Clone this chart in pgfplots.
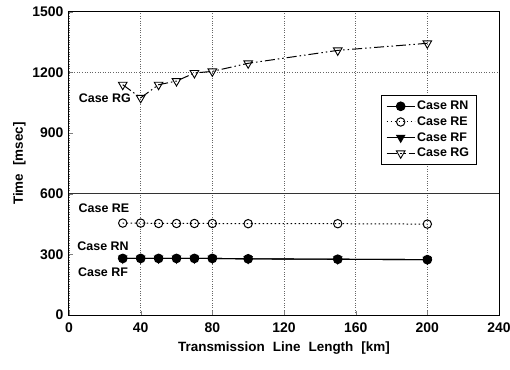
\documentclass[border=0pt]{standalone}
\usepackage{fontspec}
\setmainfont{Liberation Sans}
\usepackage{pgfplots}
\pgfplotsset{compat=1.18}
\begin{document}
\begin{tikzpicture}
\begin{axis}[
  scale only axis,
  width=430bp, height=303bp,
  xmin=0, xmax=240, ymin=0, ymax=1500,
  xtick={0,40,...,240}, ytick={0,300,...,1500},
  xtick pos=left, ytick pos=left,
  tick align=inside, major tick length=4bp,
  /pgf/number format/assume math mode=true,
  /pgf/number format/1000 sep={},
  ticklabel style={font=\fontsize{14}{16}\selectfont\bfseries},
  xticklabel style={yshift=-4bp},
  yticklabel style={xshift=-2bp},
  xmajorgrids,
  grid style={black!60, dotted, line width=0.6bp},
  axis line style={line width=1bp},
  xlabel={Transmission\hspace{0.6em}Line\hspace{0.6em}Length\hspace{0.6em}[km]},
  ylabel={Time\hspace{0.6em}[msec]},
  label style={font=\fontsize{13.5}{15}\selectfont\bfseries},
  xlabel style={yshift=-3bp},
  legend style={at={(axis cs:174,1090)}, anchor=north west, draw=black, line width=0.8bp,
    font=\fontsize{12.5}{14}\selectfont\bfseries, row sep=1.5bp, inner xsep=5bp, inner ysep=4bp},
  legend cell align=left,
  legend image code/.code={\draw[mark repeat=2,mark phase=2] plot coordinates {(0bp,0bp) (14bp,0bp) (28bp,0bp)};},
]
\draw[black!80, line width=0.7bp] (axis cs:0,600) -- (axis cs:240,600);
\draw[black!60, dotted, line width=0.6bp] (axis cs:0,1200) -- (axis cs:240,1200);

\addlegendimage{black, line width=1.1bp, mark=*, mark size=4.3bp}
\addlegendentry{Case RN}
\addplot[black, line width=1bp, dash pattern=on 1.5bp off 2.5bp, mark=o, mark size=4.2bp,
  mark options={solid, fill=white, line width=1bp}] coordinates {
(30,455) (40,455) (50,453) (60,453) (70,453) (80,453) (100,452) (150,452) (200,450)};
\addlegendentry{Case RE}
\addplot[black, line width=1.1bp, mark=triangle*, mark size=4.5bp, mark options={rotate=180}] coordinates {
(30,280) (40,280) (50,280) (60,280) (70,280) (80,280) (100,278) (150,276) (200,274)};
\addlegendentry{Case RF}
\addplot[black, line width=1bp, dash pattern=on 10bp off 3bp on 1.5bp off 3bp on 1.5bp off 3bp,
  mark=triangle, mark size=5bp, mark options={rotate=180, solid, fill=white, line width=0.9bp}] coordinates {
(30,1140) (40,1075) (50,1140) (60,1158) (70,1198) (80,1206) (100,1246) (150,1310) (200,1345)};
\addlegendentry{Case RG}

\addplot[black, line width=1.1bp, mark=*, mark size=4.3bp, forget plot] coordinates {
(30,280) (40,280) (50,280) (60,280) (70,280) (80,280) (100,278) (150,276) (200,274)};

\node[font=\fontsize{12.5}{14}\selectfont\bfseries] at (axis cs:20,1072) {Case RG};
\node[font=\fontsize{12.5}{14}\selectfont\bfseries] at (axis cs:19.5,528) {Case RE};
\node[font=\fontsize{12.5}{14}\selectfont\bfseries] at (axis cs:19,342) {Case RN};
\node[font=\fontsize{12.5}{14}\selectfont\bfseries] at (axis cs:19,210) {Case RF};
\end{axis}
\pgfresetboundingbox
\path[use as bounding box] ([shift={(-69bp,-55bp)}]current axis.south west) rectangle ([shift={(11bp,12bp)}]current axis.north east);
\end{tikzpicture}
\end{document}
